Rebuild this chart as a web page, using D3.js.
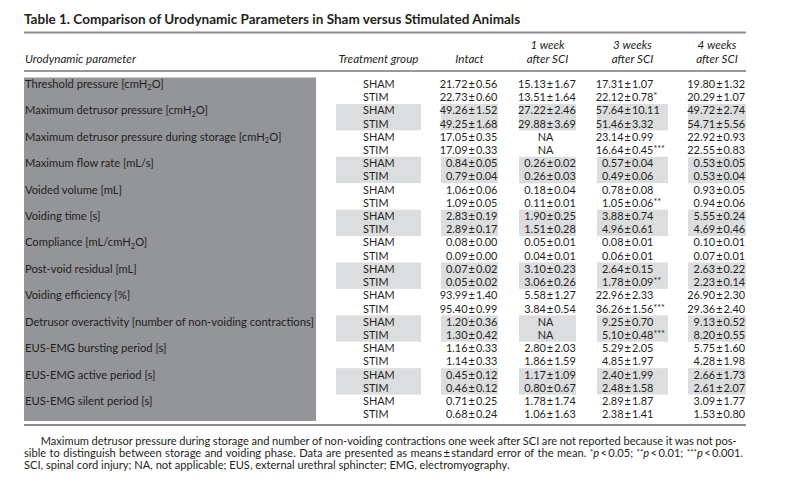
<!DOCTYPE html>
<html>
<head>
<meta charset="utf-8">
<title>Table 1</title>
<script src="https://cdn.jsdelivr.net/npm/d3@7"></script>
<style>
  body { margin: 0; background: #fff; }
  svg { display: block; font-family: Lato, "Open Sans", sans-serif; }
  .cell { font-size: 10.9px; fill: #231f20; }
  .plabel { font-size: 11.2px; }
  .head { font-size: 11.6px; font-style: italic; fill: #231f20; }
  .title { font-size: 13px; font-weight: bold; fill: #231f20; }
  .note { font-size: 10.8px; fill: #231f20; }
</style>
</head>
<body>
<div id="chart"></div>
<script>
// ---- data ----
var parameters = [
  'Threshold pressure [cmH2O]',
  'Maximum detrusor pressure [cmH2O]',
  'Maximum detrusor pressure during storage [cmH2O]',
  'Maximum flow rate [mL/s]',
  'Voided volume [mL]',
  'Voiding time [s]',
  'Compliance [mL/cmH2O]',
  'Post-void residual [mL]',
  'Voiding efficiency [%]',
  'Detrusor overactivity [number of non-voiding contractions]',
  'EUS-EMG bursting period [s]',
  'EUS-EMG active period [s]',
  'EUS-EMG silent period [s]'
];
var groups = ['SHAM', 'STIM'];
var headers = [['Treatment group'], ['Intact'], ['1 week', 'after SCI'], ['3 weeks', 'after SCI'], ['4 weeks', 'after SCI']];

// rows go SHAM, STIM for each parameter; null = NA
var intactMean = [21.72,22.73, 49.26,49.25, 17.05,17.09, 0.84,0.79, 1.06,1.09, 2.83,2.89, 0.08,0.09, 0.07,0.05, 93.99,95.40, 1.20,1.30, 1.16,1.14, 0.45,0.46, 0.71,0.68];
var intactSem  = [0.56,0.60, 1.52,1.68, 0.35,0.33, 0.05,0.04, 0.06,0.05, 0.19,0.17, 0.00,0.00, 0.02,0.02, 1.40,0.99, 0.36,0.42, 0.33,0.33, 0.12,0.12, 0.25,0.24];
var week1Mean  = [15.13,13.51, 27.22,29.88, null,null, 0.26,0.26, 0.18,0.11, 1.90,1.51, 0.05,0.04, 3.10,3.06, 5.58,3.84, null,null, 2.80,1.86, 1.17,0.80, 1.78,1.06];
var week1Sem   = [1.67,1.64, 2.46,3.69, null,null, 0.02,0.03, 0.04,0.01, 0.25,0.28, 0.01,0.01, 0.23,0.26, 1.27,0.54, null,null, 2.03,1.59, 1.09,0.67, 1.74,1.63];
var week3Mean  = [17.31,22.12, 57.64,51.46, 23.14,16.64, 0.57,0.49, 0.78,1.05, 3.88,4.96, 0.08,0.06, 2.64,1.78, 22.96,36.26, 9.25,5.10, 5.29,4.85, 2.40,2.48, 2.89,2.38];
var week3Sem   = [1.07,0.78, 10.11,3.32, 0.99,0.45, 0.04,0.06, 0.08,0.06, 0.74,0.61, 0.01,0.01, 0.15,0.09, 2.33,1.56, 0.70,0.48, 2.05,1.97, 1.99,1.58, 1.87,1.41];
var week3Sig   = ['','*', '','', '','***', '','', '','**', '','', '','', '','**', '','***', '','***', '','', '','', '',''];
var week4Mean  = [19.80,20.29, 49.72,54.71, 22.92,22.55, 0.53,0.53, 0.93,0.94, 5.55,4.69, 0.10,0.07, 2.63,2.23, 26.90,29.36, 9.13,8.20, 5.75,4.28, 2.66,2.61, 3.09,1.53];
var week4Sem   = [1.32,1.07, 2.74,5.56, 0.93,0.83, 0.05,0.04, 0.05,0.06, 0.24,0.46, 0.01,0.01, 0.22,0.14, 2.30,2.40, 0.52,0.55, 1.60,1.98, 1.73,2.07, 1.77,0.80];

var valueColumns = [
  {mean: intactMean, sem: intactSem, sig: null},
  {mean: week1Mean, sem: week1Sem, sig: null},
  {mean: week3Mean, sem: week3Sem, sig: week3Sig},
  {mean: week4Mean, sem: week4Sem, sig: null}
];

// ---- layout ----
var width = 785, height = 493;
var left = 24, right = 746;
var colStart = [336, 441, 519, 597, 688];
var colEnd   = [421, 498, 576, 668, 746];
var pmX      = [null, 471.7, 550, 627.7, 719.3];

var svg = d3.select('#chart').append('svg')
  .attr('width', width).attr('height', height);

var nRows = parameters.length * groups.length;
var y = d3.scaleBand().domain(d3.range(nRows)).range([77.5, 421]);

// label with H2O subscript
function richLabel(sel, str) {
  var parts = str.split('H2O');
  sel.append('tspan').text(parts[0]);
  for (var i = 1; i < parts.length; i++) {
    sel.append('tspan').text('H');
    sel.append('tspan').attr('dy', 2.5).style('font-size', '7.5px').text('2');
    sel.append('tspan').attr('dy', -2.5).text('O' + parts[i]);
  }
}

// stretch a line to a given width with word spacing (justified text)
function justify(t, target) {
  var w = t.node().getComputedTextLength();
  var spaces = (t.text().match(/ /g) || []).length;
  if (spaces) t.attr('word-spacing', (target - w) / spaces);
}

// title
var title = svg.append('text').attr('class', 'title')
  .attr('x', left).attr('y', 24)
  .text('Table 1.  Comparison of Urodynamic Parameters in Sham versus Stimulated Animals');
var tw = title.node().getComputedTextLength();
title.style('font-size', (13 * 497 / tw) + 'px');

// rules
svg.append('line').attr('x1', left).attr('x2', right).attr('y1', 32.5).attr('y2', 32.5)
  .attr('stroke', '#8c8c8c').attr('stroke-width', 1.8);
svg.append('line').attr('x1', left).attr('x2', right).attr('y1', 71).attr('y2', 71)
  .attr('stroke', '#333').attr('stroke-width', 1);
svg.append('line').attr('x1', left).attr('x2', right).attr('y1', 425).attr('y2', 425)
  .attr('stroke', '#8c8c8c').attr('stroke-width', 1.8);

// header
svg.append('text').attr('class', 'head').attr('x', 25).attr('y', 63).text('Urodynamic parameter');
headers.forEach(function(h, i) {
  var cx = (colStart[i] + colEnd[i]) / 2;
  h.forEach(function(line, j) {
    svg.append('text').attr('class', 'head')
      .attr('x', cx).attr('y', 63 - (h.length - 1 - j) * 14)
      .attr('text-anchor', 'middle').text(line);
  });
});

// parameter block
svg.append('rect').attr('x', left).attr('y', y(0))
  .attr('width', 316 - left).attr('height', y.bandwidth() * nRows)
  .attr('fill', '#939598');

// stripes for every second parameter
parameters.forEach(function(p, i) {
  if (i % 2 === 0) return;
  colStart.forEach(function(cs, c) {
    svg.append('rect').attr('x', cs).attr('y', y(2 * i))
      .attr('width', colEnd[c] - cs).attr('height', y.bandwidth() * 2)
      .attr('fill', '#dcdddf');
  });
});

// parameter labels
svg.selectAll('.plabel').data(parameters).enter().append('text')
  .attr('class', 'cell plabel')
  .attr('x', 25)
  .attr('y', function(d, i) { return y(2 * i) + y.bandwidth() / 2 + 3.8; })
  .each(function(d) { richLabel(d3.select(this), d); });

// rows
d3.range(nRows).forEach(function(r) {
  var by = y(r) + y.bandwidth() / 2 + 3.8;
  svg.append('text').attr('class', 'cell').attr('x', 363).attr('y', by).text(groups[r % 2]);
  valueColumns.forEach(function(col, c) {
    var px = pmX[c + 1];
    if (col.mean[r] === null) {
      svg.append('text').attr('class', 'cell')
        .attr('x', (colStart[c + 1] + colEnd[c + 1]) / 2 - 2).attr('y', by)
        .attr('text-anchor', 'middle').text('NA');
      return;
    }
    svg.append('text').attr('class', 'cell').attr('x', px - 4.2).attr('y', by)
      .attr('text-anchor', 'end').text(col.mean[r].toFixed(2));
    svg.append('text').attr('class', 'cell').attr('x', px).attr('y', by)
      .attr('text-anchor', 'middle').text('\u00b1');
    var t = svg.append('text').attr('class', 'cell').attr('x', px + 4.2).attr('y', by);
    t.append('tspan').text(col.sem[r].toFixed(2));
    if (col.sig && col.sig[r]) {
      t.append('tspan').attr('dy', -2).style('font-size', '9px').text(col.sig[r]);
    }
  });
});

// footnote
var notes = svg.append('g').attr('class', 'note');
var n3 = notes.append('text').attr('x', 24).attr('y', 468.5)
  .text('SCI, spinal cord injury; NA, not applicable; EUS, external urethral sphincter; EMG, electromyography.');
var noteSize = 10.8 * 486 / n3.node().getComputedTextLength();
notes.style('font-size', noteSize + 'px');

var n1 = notes.append('text').attr('x', 40.7).attr('y', 444.5)
  .text('Maximum detrusor pressure during storage and number of non-voiding contractions one week after SCI are not reported because it was not pos-');
justify(n1, 696);
var n2 = notes.append('text').attr('x', 24).attr('y', 456.5);
n2.append('tspan').text('sible to distinguish between storage and voiding phase. Data are presented as means\u2009\u00b1\u2009standard error of the mean. ');
[['*', '0.05; '], ['**', '0.01; '], ['***', '0.001.']].forEach(function(s) {
  n2.append('tspan').attr('dy', -2).style('font-size', '8px').text(s[0]);
  n2.append('tspan').attr('dy', 2).style('font-style', 'italic').text('p');
  n2.append('tspan').text('\u2009<\u2009' + s[1]);
});
justify(n2, 719);
</script>
</body>
</html>
